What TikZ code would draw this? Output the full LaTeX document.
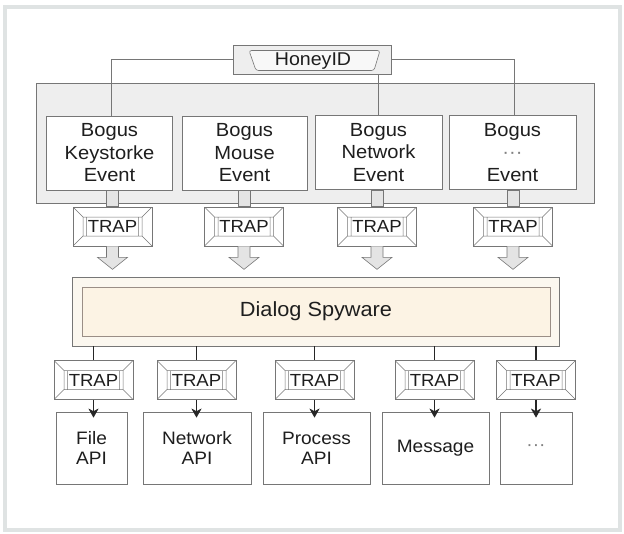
\documentclass[tikz,border=0pt]{standalone}
\usepackage{fontspec}
\setmainfont{Liberation Sans}[FakeStretch=1.06]
\usetikzlibrary{calc,arrows.meta}
\definecolor{framegray}{HTML}{DFE3E3}
\definecolor{boxline}{HTML}{767676}
\definecolor{bgfill}{HTML}{EEEEEE}
\definecolor{barfill}{HTML}{E4E4E4}
\definecolor{creamout}{HTML}{FBF7EF}
\definecolor{creamin}{HTML}{FCF3E4}
\definecolor{innerline}{HTML}{9A8E86}
\definecolor{txt}{HTML}{1E1E1E}
\definecolor{darkln}{HTML}{262626}
\tikzset{
  thinln/.style={draw=boxline, line width=0.6pt},
  evbox/.style={draw=boxline, line width=0.7pt, fill=white, minimum width=126, minimum height=74,
    inner sep=0pt, align=center, text=txt, font=\fontsize{19}{22.5}\selectfont},
  apibox/.style={draw=boxline, line width=0.7pt, fill=white, minimum height=72,
    inner sep=0pt, align=center, text=txt, font=\fontsize{18}{20}\selectfont},
  trapbox/.style={draw=boxline, line width=0.7pt, fill=white, minimum width=79, minimum height=39,
    inner sep=0pt, text=txt, font=\fontsize{17.5}{17.5}\selectfont,
    path picture={
      \draw[boxline, line width=0.5pt]
        ($(path picture bounding box.north west)+(10,10)$) rectangle ($(path picture bounding box.south east)+(-10,-10)$)
        (path picture bounding box.north west) -- ($(path picture bounding box.north west)+(10,10)$)
        (path picture bounding box.north east) -- ($(path picture bounding box.north east)+(-10,10)$)
        (path picture bounding box.south west) -- ($(path picture bounding box.south west)+(10,-10)$)
        (path picture bounding box.south east) -- ($(path picture bounding box.south east)+(-10,-10)$)
        ($(path picture bounding box.north west)+(13.5,10)$) -- ($(path picture bounding box.south west)+(13.5,-10)$)
        ($(path picture bounding box.north east)+(-13.5,10)$) -- ($(path picture bounding box.south east)+(-13.5,-10)$);
    }},
  hidbox/.style={draw=boxline, line width=0.7pt, fill=bgfill, minimum width=158, minimum height=29,
    inner sep=0pt,
    path picture={
      \draw[boxline, line width=0.6pt, fill=white!60!bgfill, rounded corners=2.5pt]
        ($(path picture bounding box.center)+(-63,-9)$) -- ($(path picture bounding box.center)+(68,-9)$)
        -- ($(path picture bounding box.center)+(62,11)$) -- ($(path picture bounding box.center)+(-56,11)$) -- cycle;
    }},
  blockarr/.style={draw=boxline, line width=0.6pt, fill=barfill},
  barstyle/.style={draw=boxline, line width=0.6pt, fill=barfill},
  darkline/.style={draw=darkln, line width=1.5pt},
  apiarrow/.style={darkline, -{Stealth[length=9pt, width=10pt, inset=2.5pt]}}
}
\newcommand\blkarrow[1]{%
  \draw[blockarr] ($(#1.south)+(-6,0)$) -- ($(#1.south)+(-6,11)$) -- ($(#1.south)+(-15,11)$)
    -- ($(#1.south)+(0,23)$) -- ($(#1.south)+(15,11)$) -- ($(#1.south)+(6,11)$) -- ($(#1.south)+(6,0)$);}
\begin{document}
\begin{tikzpicture}[x=1pt,y=-1pt]
\useasboundingbox (0,0) rectangle (624,533);
\fill[white] (0,0) rectangle (624,533);
\draw[framegray, line width=4pt] (5,7) rectangle (620,530);

% background of events
\node[draw=boxline, line width=0.7pt, fill=bgfill, minimum width=558, minimum height=120, inner sep=0pt] (bg) at (315,143) {};

% HoneyID
\node[hidbox] (hid) at (312,59.5) {};
\node[text=txt, font=\fontsize{18.5}{18.5}\selectfont, inner sep=0pt] (hidt) at (313,61) {HoneyID};

% event boxes
\node[evbox] (e1) at (109.5,153) {Bogus\\Keystorke\\Event};
\node[evbox, minimum width=125] (e2) at (244.5,153) {Bogus\\Mouse\\Event};
\node[evbox, minimum width=127] (e3) at (378.5,152.5) {Bogus\\Network\\Event};
\node[evbox, minimum width=127] (e4) at (512.5,152.5) {Bogus\\{\color{gray}\textperiodcentered\textperiodcentered\textperiodcentered}\\Event};

% HoneyID connectors
\draw[thinln] (hid.west) -| ($(e1.north)+(2,0)$);
\draw[thinln] (hid.east) -| ($(e4.north)+(1.5,0)$);
\draw[thinln] ($(hid.south west)+(19,0)$) -- ($(hid.south west)+(19,0)$ |- e2.north);
\draw[thinln] (e3.north |- hid.south) -- (e3.north);

% upper traps
\node[trapbox] (t1) at (112.5,226.5) {TRAP};
\node[trapbox] (t2) at (244,226.5) {TRAP};
\node[trapbox] (t3) at (377,226.5) {TRAP};
\node[trapbox] (t4) at (513,226.5) {TRAP};

\foreach \e/\t in {e1/t1,e2/t2,e3/t3,e4/t4}{
  \draw[barstyle] ($(\t.north)+(-6,0)$) rectangle ($(\t.north |- \e.south)+(6,0)$);
  \blkarrow{\t}
}

% dialog spyware
\node[draw=boxline, line width=0.7pt, fill=creamout, minimum width=487, minimum height=69, inner sep=0pt] (dlg) at (315.5,311.5) {};
\node[draw=innerline, line width=0.8pt, fill=creamin, minimum width=468, minimum height=49, inner sep=0pt,
  text=txt, font=\fontsize{20.5}{20.5}\selectfont] (dlgin) at (316,311.5) {Dialog Spyware};

% lower traps
\node[trapbox] (b1) at (93.5,380) {TRAP};
\node[trapbox] (b2) at (196.5,380) {TRAP};
\node[trapbox] (b3) at (314.5,380) {TRAP};
\node[trapbox] (b4) at (434.5,380) {TRAP};
\node[trapbox] (b5) at (536,380) {TRAP};

% api boxes
\node[apibox, minimum width=71] (a1) at (91.5,448) {File\\API};
\node[apibox, minimum width=108] (a2) at (197,448) {Network\\API};
\node[apibox, minimum width=107] (a3) at (316.5,448) {Process\\API};
\node[apibox, minimum width=107] (a4) at (435.5,448) {Message};
\node[apibox, minimum width=72, text=gray] (a5) at (536,448) {\textperiodcentered\textperiodcentered\textperiodcentered};

\foreach \b/\a in {b1/a1,b2/a2,b3/a3,b4/a4,b5/a5}{
  \draw[darkline] (\b.north |- dlg.south) -- (\b.north);
  \draw[apiarrow] (\b.south) -- ($(\b.south |- \a.north)+(0,6)$);
}
\end{tikzpicture}
\end{document}
